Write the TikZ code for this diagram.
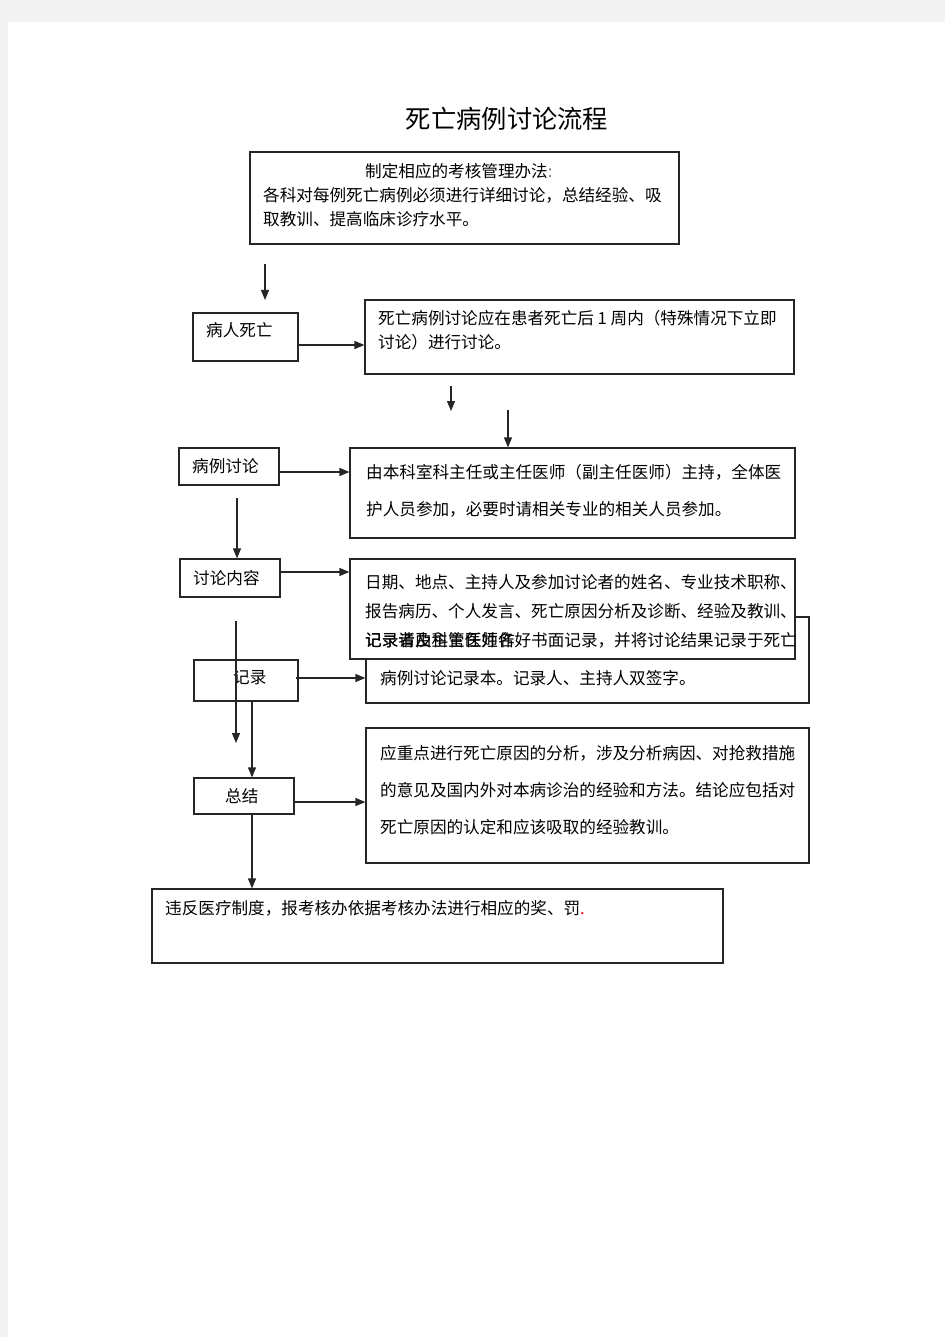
\documentclass[tikz,border=0pt]{standalone}
\usepackage{fontspec}
\setmainfont{Noto Sans CJK SC}
\usepackage{tikz}
\usetikzlibrary{
  arrows.meta,
  positioning,
  calc}
\tikzset{every picture/.style={font issue=\fontsize{16.6}{24}},
         font issue/.style={execute at begin picture={#1\selectfont}},
         box/.style={draw=black!85, line width=1.2pt, fill=white, inner sep=0pt},
         arr/.style={line width=1.2pt, draw=black!85, -{Triangle[length=10pt,width=8pt]}},
         txt/.style={inner sep=0pt, align=left, anchor=north west}
        }

\begin{document}
\begin{tikzpicture}[x=1pt,y=-1pt]
%page
\fill[black!5] (0,0) rectangle (945,1337);
\fill[white] (8,22) rectangle (945,1337);
\useasboundingbox (0,0) rectangle (945,1337);

\node[font=\fontsize{25.3}{30}\selectfont] (title) at (507,119) {死亡病例讨论流程};

%boxes
\node[box, minimum width=429pt, minimum height=92pt] (rules) at (464.5,198) {};
\node[box, minimum width=105pt, minimum height=48pt] (death) at (245.5,337) {};
\node[box, minimum width=429pt, minimum height=74pt] (time) at (579.5,337) {};
\node[box, minimum width=100pt, minimum height=37pt] (case) at (229,466.5) {};
\node[box, minimum width=445pt, minimum height=90pt] (host) at (572.5,493) {};
\node[box, minimum width=100pt, minimum height=38pt] (cont) at (230,578) {};
\node[box, minimum width=443pt, minimum height=86pt] (rec) at (587.5,660) {};
\node[box, minimum width=445pt, minimum height=100pt] (item) at (572.5,609) {};
\node[box, line width=2pt, minimum width=104pt, minimum height=41pt] (record) at (246,680.5) {};
\node[box, minimum width=100pt, minimum height=36pt] (summ) at (244,796) {};
\node[box, minimum width=443pt, minimum height=135pt] (sumtxt) at (587.5,795.5) {};
\node[box, minimum width=571pt, minimum height=74pt] (punish) at (437.5,926) {};

%texts
\node[txt] (rulesHead) at (365,163) {制定相应的考核管理办法{\color{black!55}:}};
\node[txt] (rulesBody) at (263,187) {各科对每例死亡病例必须进行详细讨论，总结经验、吸\\取教训、提高临床诊疗水平。};
\node[txt] (deathLbl) at (206,322) {病人死亡};
\node[txt] (timeLbl) at (378,310) {死亡病例讨论应在患者死亡后 1 周内（特殊情况下立即\\讨论）进行讨论。};
\node[txt] (caseLbl) at (192,458) {病例讨论};
\node[txt, font=\fontsize{16.6}{37}\selectfont] (hostLbl) at (366,464) {由本科室科主任或主任医师（副主任医师）主持，全体医\\护人员参加，必要时请相关专业的相关人员参加。};
\node[txt] (contLbl) at (193,570) {讨论内容};
\node[txt, font=\fontsize{16.6}{29}\selectfont] (itemLbl) at (365,574) {日期、地点、主持人及参加讨论者的姓名、专业技术职称、\\报告病历、个人发言、死亡原因分析及诊断、经验及教训、\\记录者及科主任姓名};
\node[txt] (recLblA) at (365,632) {记录请由主管医师作好书面记录，并将讨论结果记录于死亡};
\node[txt] (recLblB) at (380,670) {病例讨论记录本。记录人、主持人双签字。};
\node[txt] (recordLbl) at (233,670) {记录};
\node[txt] (summLbl) at (225,788) {总结};
\node[txt, font=\fontsize{16.6}{37}\selectfont] (sumLbl) at (380,745) {应重点进行死亡原因的分析，涉及分析病因、对抢救措施\\的意见及国内外对本病诊治的经验和方法。结论应包括对\\死亡原因的认定和应该吸取的经验教训。};
\node[txt] (punishLbl) at (165,900) {违反医疗制度，报考核办依据考核办法进行相应的奖、罚{\color{red}.}};

%connectors
\coordinate (a1) at (265,264);
\coordinate (a1e) at (265,300);
\draw[arr] (a1) -- (a1e);
\draw[arr] ([yshift=-8pt]death.east) -- ([yshift=-8pt]death.east -| time.west);
\coordinate (a2) at (451,386);
\coordinate (a2e) at (451,411);
\draw[arr] (a2) -- (a2e);
\coordinate (a3) at (508,410);
\draw[arr] (a3) -- (a3 |- host.north);
\draw[arr] ([yshift=-5.5pt]case.east) -- ([yshift=-5.5pt]case.east -| host.west);
\coordinate (a4) at (237,498);
\draw[arr] (a4) -- (a4 |- cont.north);
\draw[arr] ([yshift=6pt]cont.east) -- ([yshift=6pt]cont.east -| item.west);
\coordinate (a5) at (236,621);
\coordinate (a5e) at (236,743);
\draw[arr] (a5) -- (a5e);
\draw[arr] ([xshift=-3pt,yshift=2.5pt]record.east) -- ([yshift=2.5pt]record.east -| rec.west);
\draw[arr] ([xshift=6pt]record.south) -- ([xshift=6pt]record.south |- summ.north);
\draw[arr] ([yshift=-6pt]summ.east) -- ([yshift=-6pt]summ.east -| sumtxt.west);
\draw[arr] ([xshift=8pt]summ.south) -- ([xshift=8pt]summ.south |- punish.north);
\end{tikzpicture}
\end{document}
